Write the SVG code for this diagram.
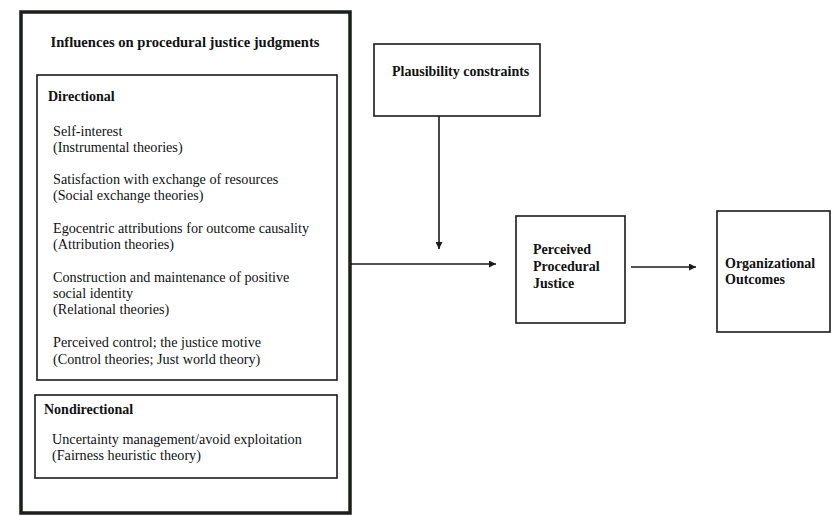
<svg xmlns="http://www.w3.org/2000/svg" width="831" height="516" viewBox="0 0 831 516">
<defs>
<style>
.outer{fill:#fff;stroke:#1a1f1a;stroke-width:3.5}
.box{fill:#fff;stroke:#1a1a1a;stroke-width:1.6}
.t{font-family:"Liberation Serif","Times New Roman",serif;font-size:14.2px;fill:#111}
.b{font-weight:bold;font-size:14px}
.title{font-size:14.6px}
.edge{stroke:#1a1a1a;stroke-width:1.6;fill:none}
</style>
<marker id="ah" viewBox="0 0 10 10" refX="10" refY="5" markerWidth="7" markerHeight="7" markerUnits="userSpaceOnUse" orient="auto">
<path d="M0,0 L10,5 L0,10 z" fill="#1a1a1a"/>
</marker>
</defs>
<rect width="831" height="516" fill="#fff"/>
<g id="influences">
<rect class="outer" x="21" y="12" width="329" height="501"/>
<text class="t b title" x="185" y="47" text-anchor="middle">Influences on procedural justice judgments</text>
</g>
<g id="directional">
<rect class="box" x="37" y="75" width="300" height="305"/>
<text class="t b" x="48" y="101">Directional</text>
<text class="t" x="53" y="136">Self-interest</text>
<text class="t" x="53" y="152">(Instrumental theories)</text>
<text class="t" x="53" y="184">Satisfaction with exchange of resources</text>
<text class="t" x="53" y="200">(Social exchange theories)</text>
<text class="t" x="53" y="233">Egocentric attributions for outcome causality</text>
<text class="t" x="53" y="249">(Attribution theories)</text>
<text class="t" x="53" y="282">Construction and maintenance of positive</text>
<text class="t" x="53" y="298">social identity</text>
<text class="t" x="53" y="314">(Relational theories)</text>
<text class="t" x="53" y="347">Perceived control; the justice motive</text>
<text class="t" x="53" y="364">(Control theories; Just world theory)</text>
</g>
<g id="nondirectional">
<rect class="box" x="35" y="395" width="302" height="83"/>
<text class="t b" x="44" y="414">Nondirectional</text>
<text class="t" x="52" y="444">Uncertainty management/avoid exploitation</text>
<text class="t" x="52" y="460">(Fairness heuristic theory)</text>
</g>
<g id="plausibility">
<rect class="box" x="374" y="44" width="166" height="72"/>
<text class="t b" x="392" y="76">Plausibility constraints</text>
</g>
<g id="perceived">
<rect class="box" x="516" y="216" width="109" height="107"/>
<text class="t b" x="533" y="254">Perceived</text>
<text class="t b" x="533" y="271">Procedural</text>
<text class="t b" x="533" y="288">Justice</text>
</g>
<g id="outcomes">
<rect class="box" x="717" y="211" width="113" height="121"/>
<text class="t b" x="725" y="268">Organizational</text>
<text class="t b" x="725" y="284">Outcomes</text>
</g>
<g id="connectors">
<line class="edge" x1="439" y1="116" x2="439" y2="249" marker-end="url(#ah)"/>
<line class="edge" x1="351" y1="264" x2="496" y2="264" marker-end="url(#ah)"/>
<line class="edge" x1="631" y1="267" x2="696" y2="267" marker-end="url(#ah)"/>
</g>
</svg>
